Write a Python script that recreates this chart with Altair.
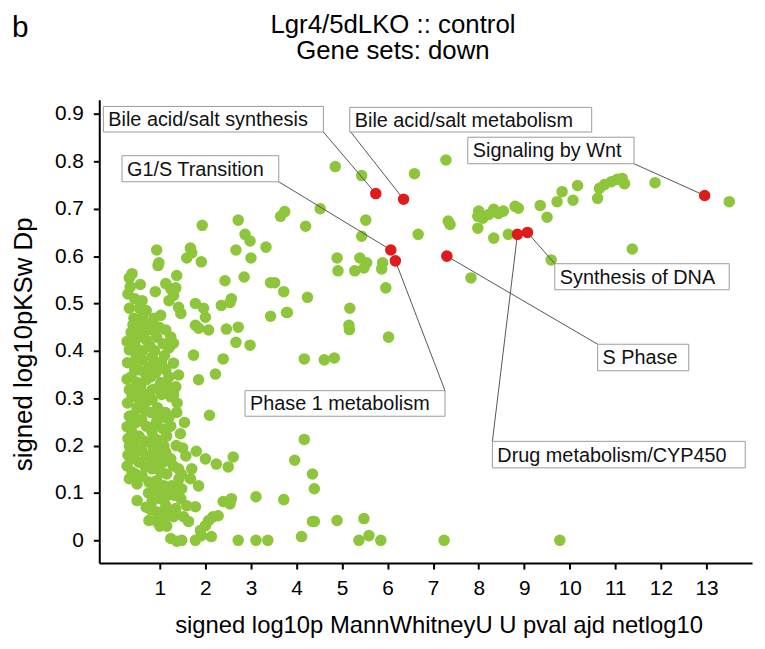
import altair as alt
import pandas as pd

# ---------------- data ----------------
green_x = [
    4.85, 5.43, 4.52, 3.74, 3.65, 5.52, 4.20, 2.72, 1.93, 2.87, 2.98, 5.43, 3.33, 2.67, 3.00,
    1.67, 1.59, 1.70, 1.91, 0.93, 0.98, 0.96, 0.39, 0.33, 1.37, 2.43, 2.85, 3.52, 3.72, 4.24,
    3.80, 3.43, 4.89, 4.91, 5.39, 5.28, 5.48, 5.54, 5.89, 5.87, 5.96, 5.17, 5.15, 5.16, 6.02,
    7.28, 6.59, 7.33, 7.37, 6.67, 8.00, 7.98, 8.09, 8.22, 8.33, 8.43, 8.54, 8.80, 8.87, 7.98,
    8.33, 8.65, 9.35, 9.50, 9.72, 9.83, 10.07, 10.17, 10.61, 10.65, 10.76, 10.91, 11.04, 11.15, 11.20,
    11.87, 13.50, 11.37, 9.59, 7.83,
    1.13, 1.24, 1.35, 1.30, 1.20, 1.41, 1.46, 2.57, 2.35, 1.78, 1.96, 2.00, 1.78, 1.85, 2.07,
    2.46, 2.72, 2.67, 2.98, 3.43, 2.54, 3.78,
    0.33, 0.43, 0.61, 0.70, 0.87, 1.02, 0.98, 0.37, 0.48, 0.39, 0.54, 0.70, 0.83, 0.93, 1.13,
    1.24, 1.30, 1.20, 1.74, 2.39, 2.22, 1.85, 1.41,
    0.33, 0.48, 0.39, 0.54, 0.37, 0.50, 0.61, 0.76, 0.83, 0.70, 0.91, 1.04, 1.13, 1.02, 1.20,
    1.30, 1.35, 0.83, 1.13, 1.26, 0.33,
    4.17, 4.61, 4.83,
    0.39, 0.61, 0.83, 1.04, 1.24, 1.30, 1.37, 1.54, 2.09, 1.02, 0.93, 1.13, 0.33, 0.48, 0.37,
    0.54, 0.70, 0.83, 0.76, 0.93, 1.09, 1.15, 1.24,
    0.33, 0.48, 0.37, 0.28, 0.54, 0.39, 0.61, 0.33, 0.50, 0.70, 0.83, 0.98, 1.13, 1.24, 1.30,
    0.83, 1.02, 1.15, 0.93, 0.76, 1.09, 1.26, 1.41,
    1.57, 1.80, 2.00, 2.24, 2.50, 2.61, 1.70, 1.67, 1.85, 1.48, 4.17, 3.96, 4.35, 4.39,
    0.50, 0.83, 1.02, 1.13, 1.20, 1.35, 0.91, 0.76, 0.93, 1.09, 1.46, 1.59, 1.78, 1.52, 1.63,
    2.39, 2.57, 2.54, 3.11, 3.72, 2.07, 2.17, 2.28, 2.00, 1.89,
    1.24, 1.37, 1.48, 1.78, 1.91, 2.13, 2.72, 3.11, 3.37, 4.11, 4.35, 4.39, 4.89, 5.48, 5.37,
    5.59, 5.85, 7.24, 9.78,
    0.30, 0.35, 0.45, 0.55, 0.62, 0.41, 0.58, 0.76, 0.66, 0.28, 0.46, 0.62, 0.78, 0.88, 1.07,
    0.29, 0.45, 0.66, 0.80, 0.95, 1.10, 0.28, 0.42, 0.58, 0.72, 0.92, 1.18, 0.29, 0.50, 0.66,
    0.80, 0.43, 0.60, 0.86, 1.07, 1.20, 0.28, 0.45, 0.65, 0.30, 0.85, 1.00, 0.60, 0.43, 0.30,
    0.68, 0.47, 0.92, 1.08, 0.75, 0.88, 1.00, 1.17, 1.32, 0.70, 0.80, 1.05, 1.30, 1.00, 1.15,
    1.38, 1.45, 1.36, 1.42, 1.50, 1.33, 1.40, 1.47, 0.52, 0.68, 0.95, 1.12, 0.57, 0.90,
]
green_y = [
    0.789, 0.770, 0.700, 0.694, 0.684, 0.676, 0.663, 0.676, 0.665, 0.646, 0.632, 0.642, 0.619, 0.613, 0.596,
    0.617, 0.596, 0.607, 0.588, 0.613, 0.586, 0.580, 0.563, 0.554, 0.559, 0.548, 0.556, 0.544, 0.525, 0.513,
    0.481, 0.473, 0.596, 0.569, 0.596, 0.569, 0.575, 0.586, 0.586, 0.573, 0.533, 0.490, 0.454, 0.445, 0.429,
    0.803, 0.774, 0.674, 0.667, 0.646, 0.695, 0.684, 0.680, 0.688, 0.699, 0.690, 0.695, 0.705, 0.701, 0.659,
    0.638, 0.646, 0.707, 0.682, 0.715, 0.736, 0.718, 0.749, 0.722, 0.743, 0.751, 0.757, 0.762, 0.764, 0.753,
    0.755, 0.715, 0.615, 0.592, 0.554,
    0.542, 0.531, 0.533, 0.517, 0.506, 0.492, 0.479, 0.510, 0.496, 0.500, 0.490, 0.471, 0.454, 0.448, 0.444,
    0.446, 0.450, 0.418, 0.412, 0.544, 0.502, 0.481,
    0.490, 0.469, 0.506, 0.485, 0.469, 0.475, 0.450, 0.439, 0.444, 0.423, 0.429, 0.423, 0.444, 0.429, 0.444,
    0.429, 0.416, 0.406, 0.391, 0.383, 0.351, 0.339, 0.349,
    0.402, 0.387, 0.374, 0.360, 0.345, 0.333, 0.381, 0.366, 0.387, 0.339, 0.354, 0.374, 0.360, 0.333, 0.345,
    0.374, 0.324, 0.318, 0.312, 0.312, 0.318,
    0.383, 0.381, 0.385,
    0.303, 0.312, 0.297, 0.308, 0.303, 0.308, 0.270, 0.249, 0.264, 0.266, 0.251, 0.259, 0.262, 0.249, 0.234,
    0.220, 0.241, 0.228, 0.207, 0.213, 0.199, 0.220, 0.241,
    0.199, 0.186, 0.172, 0.157, 0.165, 0.144, 0.136, 0.130, 0.119, 0.178, 0.167, 0.178, 0.186, 0.172, 0.157,
    0.151, 0.144, 0.140, 0.126, 0.123, 0.115, 0.115, 0.151,
    0.178, 0.188, 0.172, 0.161, 0.155, 0.176, 0.151, 0.130, 0.115, 0.109, 0.213, 0.169, 0.140, 0.109,
    0.084, 0.082, 0.088, 0.073, 0.061, 0.067, 0.061, 0.042, 0.040, 0.042, 0.088, 0.073, 0.071, 0.050, 0.040,
    0.082, 0.088, 0.077, 0.092, 0.086, 0.042, 0.050, 0.052, 0.031, 0.021,
    0.004, -0.002, 0.000, 0.000, 0.010, 0.008, 0.000, 0.000, 0.000, 0.008, 0.040, 0.040, 0.042, 0.046, 0.000,
    0.010, 0.000, 0.000, 0.000,
    0.520, 0.535, 0.510, 0.490, 0.470, 0.455, 0.455, 0.455, 0.440, 0.420, 0.410, 0.400, 0.410, 0.400, 0.415,
    0.375, 0.360, 0.355, 0.345, 0.375, 0.390, 0.340, 0.320, 0.325, 0.300, 0.320, 0.325, 0.290, 0.280, 0.275,
    0.270, 0.265, 0.255, 0.240, 0.235, 0.260, 0.240, 0.220, 0.210, 0.215, 0.190, 0.200, 0.190, 0.200, 0.180,
    0.155, 0.140, 0.160, 0.165, 0.100, 0.105, 0.100, 0.095, 0.098, 0.070, 0.065, 0.060, 0.050, 0.030, 0.030,
    0.290, 0.225, 0.200, 0.130, 0.195, 0.095, 0.110, 0.140, 0.300, 0.290, 0.280, 0.270, 0.540, 0.525,
]

red_names = [
    "Bile acid/salt synthesis", "Bile acid/salt metabolism", "G1/S Transition", "Phase 1 metabolism",
    "S Phase", "Drug metabolism/CYP450", "Synthesis of DNA", "Signaling by Wnt",
]
red_x = [5.74, 6.35, 6.07, 6.17, 7.30, 8.85, 9.07, 12.96]
red_y = [0.732, 0.720, 0.613, 0.590, 0.600, 0.646, 0.650, 0.728]

# label boxes, in data units (left, right, top, bottom) and connector start on the box
box_left = [-0.24, 5.17, 0.17, 2.87, 10.61, 8.30, 9.67, 7.76]
box_right = [4.59, 10.48, 3.61, 7.26, 12.61, 13.85, 13.50, 11.41]
box_top = [0.916, 0.914, 0.812, 0.316, 0.414, 0.209, 0.584, 0.851]
box_bottom = [0.862, 0.862, 0.757, 0.262, 0.358, 0.153, 0.529, 0.795]
conn_x = [4.59, 5.19, 3.61, 7.26, 10.61, 8.30, 9.67, 11.41]
conn_y = [0.862, 0.862, 0.757, 0.316, 0.414, 0.209, 0.584, 0.795]

x_ticks = list(range(1, 14))
y_ticks = [0, 0.1, 0.2, 0.3, 0.4, 0.5, 0.6, 0.7, 0.8, 0.9]

# ---------------- chart ----------------
FONT = "Liberation Sans"
green = pd.DataFrame({"x": green_x, "y": green_y})
red = pd.DataFrame({"name": red_names, "x": red_x, "y": red_y})
ann = pd.DataFrame({
    "name": red_names, "px": red_x, "py": red_y,
    "bl": box_left, "br": box_right, "bt": box_top, "bb": box_bottom,
    "cx": conn_x, "cy": conn_y,
})
ann["mid"] = (ann["bt"] + ann["bb"]) / 2

xscale = alt.Scale(domain=[-0.33, 14.0], nice=False, zero=False)
yscale = alt.Scale(domain=[-0.048, 0.93], nice=False, zero=False)

xaxis = alt.Axis(values=x_ticks, format="d", title="signed log10p MannWhitneyU U pval ajd netlog10",
                 titleX=342, titleY=51)
yaxis = alt.Axis(values=y_ticks, format="~g", title="signed log10pKSw Dp",
                 titleX=-63, titleY=246, titleFontSize=26)

pts = alt.Chart(green).mark_circle(size=135, color="#8dc63a", opacity=1).encode(
    x=alt.X("x:Q", scale=xscale, axis=xaxis),
    y=alt.Y("y:Q", scale=yscale, axis=yaxis),
)

lines = alt.Chart(ann).mark_rule(color="#555555", strokeWidth=1).encode(
    x="cx:Q", y="cy:Q", x2="px:Q", y2="py:Q"
)

reds = alt.Chart(red).mark_circle(size=135, color="#e01b1b", opacity=1).encode(
    x="x:Q", y="y:Q"
)

boxes = alt.Chart(ann).mark_rect(fill="white", stroke="#9a9a9a", strokeWidth=1).encode(
    x="bl:Q", x2="br:Q", y="bt:Q", y2="bb:Q"
)

texts = alt.Chart(ann).mark_text(align="left", baseline="middle", dx=5, dy=1, fontSize=20,
                                 font=FONT, color="#111111").encode(
    x="bl:Q", y="mid:Q", text="name:N"
)

panel = alt.Chart(pd.DataFrame({"t": ["b"]})).mark_text(
    align="left", baseline="alphabetic", fontSize=30, font=FONT, color="black"
).encode(x=alt.value(-88), y=alt.value(-63), text="t:N")

chart = alt.layer(pts, lines, reds, boxes, texts, panel).properties(
    width=658, height=467,
    title=alt.TitleParams(
        text=["Lgr4/5dLKO :: control", "Gene sets: down"],
        fontSize=26, fontWeight="normal", font=FONT, color="black",
        anchor="middle", frame="group", dx=-33, offset=-51, lineHeight=26,
    ),
    autosize=alt.AutoSizeParams(type="none"),
    padding={"left": 92, "top": 90, "right": 5, "bottom": 76},
).configure_axis(
    grid=False, domainColor="black", domainWidth=2, tickColor="black", tickWidth=2, tickSize=6,
    labelFont=FONT, labelFontSize=21, labelColor="black", labelPadding=9,
    titleFont=FONT, titleFontSize=24, titleFontWeight="normal", titleColor="black",
).configure_axisY(labelPadding=10).configure_view(strokeWidth=0)

chart.save("out.html", embed_options={"renderer": "svg", "actions": False})
